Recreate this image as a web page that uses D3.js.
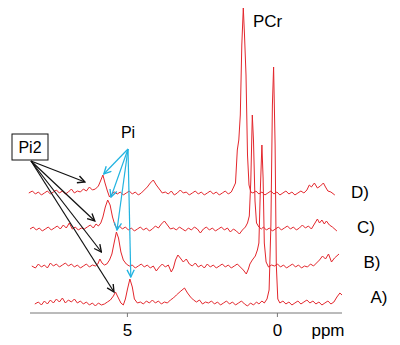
<!DOCTYPE html>
<html>
<head>
<meta charset="utf-8">
<script src="https://cdn.jsdelivr.net/npm/d3@7"></script>
<style>
  body { margin: 0; background: #fff; }
  text { font-family: "Liberation Sans", Arial, sans-serif; fill: #000; }
</style>
</head>
<body>
<div id="container"></div>
<script>
/* CONSTANTS */
const width = 400,
  height = 345;

/* DATA: [ppm, intensity] */
const traceNames = ["A)", "B)", "C)", "D)"];
const traceOffsets = [0, 37, 74, 110];

const specA = [[8.07,1],[7.95,3],[7.85,0],[7.75,4],[7.65,1],[7.55,5],[7.45,2],[7.35,6],[7.25,3],[7.15,7],[7.05,2],[6.95,5],[6.85,3],[6.75,6],[6.65,2],[6.55,4],[6.45,1],[6.35,3],[6.25,0],[6.15,2],[6.05,-1],[5.95,2],[5.85,0],[5.75,1],[5.65,3],[5.55,5],[5.45,9],[5.38,13],[5.3,8],[5.2,2],[5.12,0],[5.05,6],[4.98,16],[4.9,26],[4.82,18],[4.75,6],[4.65,2],[4.55,3],[4.45,1],[4.35,4],[4.25,2],[4.15,5],[4.05,2],[3.95,4],[3.85,1],[3.75,3],[3.65,2],[3.55,5],[3.45,7],[3.35,10],[3.2,14],[3.08,17],[2.98,12],[2.88,8],[2.78,5],[2.68,3],[2.58,5],[2.48,1],[2.38,3],[2.28,2],[2.18,4],[2.08,1],[1.98,3],[1.88,0],[1.78,2],[1.68,4],[1.58,1],[1.48,3],[1.38,0],[1.28,2],[1.18,4],[1.08,1],[0.98,-1],[0.88,2],[0.78,0],[0.68,3],[0.6,1],[0.5,4],[0.42,2],[0.33,6],[0.26,15],[0.2,80],[0.15,200],[0.11,238],[0.06,160],[0.02,40],[-0.03,6],[-0.1,2],[-0.2,4],[-0.3,1],[-0.4,3],[-0.5,0],[-0.6,2],[-0.7,4],[-0.8,1],[-0.9,3],[-1.0,5],[-1.1,2],[-1.2,4],[-1.3,1],[-1.4,3],[-1.5,0],[-1.6,2],[-1.7,4],[-1.8,1],[-1.9,3],[-2.0,8],[-2.1,12],[-2.17,10]];

const specB = [[8.17,2],[8.05,0],[7.95,4],[7.85,1],[7.75,3],[7.65,0],[7.55,5],[7.45,2],[7.35,4],[7.25,1],[7.15,3],[7.05,5],[6.95,2],[6.85,4],[6.75,1],[6.65,3],[6.55,0],[6.45,2],[6.35,4],[6.25,1],[6.15,3],[6.05,2],[5.97,4],[5.9,9],[5.83,5],[5.75,3],[5.67,4],[5.58,8],[5.5,14],[5.42,26],[5.35,36],[5.28,30],[5.2,16],[5.12,8],[5.02,4],[4.92,2],[4.82,3],[4.72,0],[4.62,2],[4.52,4],[4.42,1],[4.32,3],[4.22,0],[4.12,2],[4.02,-3],[3.92,1],[3.82,4],[3.72,1],[3.62,3],[3.52,-4],[3.45,0],[3.38,8],[3.3,13],[3.22,10],[3.12,6],[3.02,9],[2.92,4],[2.82,2],[2.72,5],[2.62,1],[2.52,3],[2.42,0],[2.32,4],[2.22,1],[2.12,3],[2.02,0],[1.92,2],[1.82,4],[1.72,1],[1.62,3],[1.52,0],[1.42,2],[1.32,4],[1.22,1],[1.12,-2],[1.02,-6],[0.95,-1],[0.9,4],[0.82,8],[0.72,12],[0.65,18],[0.6,25],[0.55,80],[0.5,123],[0.46,90],[0.42,25],[0.36,6],[0.28,1],[0.18,3],[0.08,2],[-0.02,4],[-0.12,1],[-0.22,3],[-0.32,0],[-0.42,2],[-0.52,4],[-0.62,1],[-0.72,3],[-0.82,0],[-0.92,2],[-1.02,1],[-1.12,4],[-1.22,2],[-1.32,5],[-1.42,8],[-1.52,12],[-1.62,9],[-1.72,14],[-1.82,6],[-1.92,10],[-2.07,14]];

const specC = [[8.23,2],[8.12,4],[8.02,1],[7.92,3],[7.82,0],[7.72,2],[7.62,4],[7.52,1],[7.42,3],[7.32,5],[7.22,2],[7.12,6],[7.02,3],[6.92,8],[6.82,2],[6.72,4],[6.62,1],[6.52,3],[6.42,2],[6.32,4],[6.22,6],[6.12,3],[6.03,7],[5.95,5],[5.87,8],[5.8,14],[5.72,24],[5.64,31],[5.56,26],[5.48,14],[5.4,6],[5.32,2],[5.25,5],[5.15,2],[5.05,4],[4.95,1],[4.85,3],[4.75,0],[4.65,2],[4.55,4],[4.45,1],[4.35,3],[4.25,0],[4.15,2],[4.05,5],[3.95,3],[3.85,7],[3.75,10],[3.65,6],[3.55,2],[3.45,3],[3.35,1],[3.25,4],[3.15,2],[3.05,0],[2.95,3],[2.85,1],[2.75,4],[2.65,2],[2.55,-2],[2.45,2],[2.35,4],[2.25,1],[2.15,3],[2.05,0],[1.95,2],[1.85,4],[1.75,1],[1.65,3],[1.55,-1],[1.45,2],[1.35,0],[1.25,-3],[1.15,1],[1.05,4],[0.98,8],[0.92,15],[0.87,50],[0.82,116],[0.78,90],[0.73,30],[0.68,8],[0.6,4],[0.52,2],[0.45,4],[0.35,1],[0.25,3],[0.15,0],[0.05,2],[-0.05,4],[-0.15,1],[-0.25,3],[-0.35,5],[-0.45,2],[-0.55,4],[-0.65,1],[-0.75,3],[-0.85,6],[-0.95,3],[-1.05,5],[-1.15,2],[-1.25,7],[-1.35,12],[-1.42,8],[-1.5,11],[-1.58,7],[-1.65,10],[-1.75,6],[-1.85,4],[-2.0,0]];

const specD = [[8.27,2],[8.15,4],[8.05,1],[7.95,3],[7.85,0],[7.75,2],[7.65,4],[7.55,1],[7.45,3],[7.35,5],[7.25,2],[7.15,4],[7.05,1],[6.95,3],[6.85,6],[6.75,2],[6.65,4],[6.55,3],[6.45,6],[6.35,4],[6.25,8],[6.15,5],[6.05,6],[5.95,9],[5.88,14],[5.8,20],[5.73,12],[5.65,4],[5.58,-2],[5.5,1],[5.42,3],[5.32,1],[5.22,3],[5.12,0],[5.02,2],[4.92,4],[4.82,1],[4.72,3],[4.62,0],[4.52,2],[4.42,5],[4.32,8],[4.22,12],[4.12,15],[4.02,10],[3.92,6],[3.82,2],[3.72,3],[3.62,1],[3.52,4],[3.42,0],[3.32,2],[3.22,5],[3.12,2],[3.02,3],[2.92,0],[2.82,2],[2.72,4],[2.62,1],[2.52,3],[2.42,0],[2.32,2],[2.22,4],[2.12,1],[2.02,3],[1.92,0],[1.82,2],[1.72,4],[1.62,1],[1.52,3],[1.44,8],[1.38,12],[1.32,45],[1.27,55],[1.22,80],[1.17,150],[1.12,187],[1.08,160],[1.03,120],[0.98,40],[0.93,10],[0.87,3],[0.8,2],[0.7,4],[0.6,1],[0.5,3],[0.4,0],[0.3,2],[0.2,4],[0.1,1],[0.0,3],[-0.1,0],[-0.2,2],[-0.3,4],[-0.4,1],[-0.5,3],[-0.6,0],[-0.7,2],[-0.8,4],[-0.9,2],[-1.0,5],[-1.08,10],[-1.15,8],[-1.25,12],[-1.35,7],[-1.45,9],[-1.55,12],[-1.62,8],[-1.7,4],[-1.8,3],[-1.93,0]];

const spectra = [specA, specB, specC, specD];
const xTicks = [5, 0];

// arrow tips: [ppm, height] in chart units
const pi2Targets = [[5.43, 13], [5.85, 16 + 37], [6.07, 10 + 74], [6.40, 13 + 110]];
const piTargets = [[4.87, 28], [5.33, 38 + 37], [5.53, 34 + 74], [5.77, 21 + 110]];

/* SCALES */
const xScale = d3.scaleLinear()
  .domain([8.23, -2.17])
  .range([30, 342]);

const yScale = d3.scaleLinear()
  .domain([0, 300])
  .range([305, 5]);

/* DRAW */
const svg = d3.select("#container")
  .append("svg")
  .attr("width", width)
  .attr("height", height);

const defs = svg.append("defs");
function marker(id, color) {
  defs.append("marker")
    .attr("id", id)
    .attr("viewBox", "0 0 10 10")
    .attr("refX", 9)
    .attr("refY", 5)
    .attr("markerWidth", 9)
    .attr("markerHeight", 9)
    .attr("markerUnits", "userSpaceOnUse")
    .attr("orient", "auto")
    .append("path")
    .attr("d", "M1,1 L9,5 L1,9")
    .attr("fill", "none")
    .attr("stroke", color)
    .attr("stroke-width", 1.5);
}
marker("arrBlack", "#111");
marker("arrBlue", "#22b3e0");

// x axis
const xAxis = d3.axisBottom(xScale)
  .tickValues(xTicks)
  .tickSize(4)
  .tickFormat(d3.format("d"));

const gx = svg.append("g")
  .attr("transform", "translate(0,313)")
  .call(xAxis);
gx.select(".domain").attr("stroke", "#777").attr("d", "M30,0H342");
gx.selectAll(".tick line").attr("stroke", "#777");
gx.selectAll(".tick text")
  .attr("y", 11)
  .attr("font-size", 17)
  .attr("font-family", "Liberation Sans, Arial, sans-serif");

svg.append("text")
  .attr("x", 328)
  .attr("y", 336)
  .attr("text-anchor", "middle")
  .attr("font-size", 17)
  .text("ppm");

// spectra
const line = d3.line()
  .x(d => xScale(d[0]))
  .y(d => yScale(d[1]));

spectra.forEach((s, i) => {
  svg.append("path")
    .datum(s.map(d => [d[0], d[1] + traceOffsets[i]]))
    .attr("d", line)
    .attr("fill", "none")
    .attr("stroke", "#e3262c")
    .attr("stroke-width", 1)
    .attr("stroke-linejoin", "round");
});

// trace labels
const labelX = [379, 372, 366, 360];
const labelY = [303, 268, 233, 198];
traceNames.forEach((n, i) => {
  svg.append("text")
    .attr("x", labelX[i])
    .attr("y", labelY[i])
    .attr("text-anchor", "middle")
    .attr("font-size", 17)
    .text(n);
});

// PCr label
svg.append("text")
  .attr("x", 253)
  .attr("y", 27)
  .attr("font-size", 17)
  .text("PCr");

// Pi2 box and arrows
svg.append("rect")
  .attr("x", 12)
  .attr("y", 134)
  .attr("width", 36)
  .attr("height", 26)
  .attr("fill", "#fff")
  .attr("stroke", "#111")
  .attr("stroke-width", 1);
svg.append("text")
  .attr("x", 30)
  .attr("y", 153)
  .attr("text-anchor", "middle")
  .attr("font-size", 16)
  .text("Pi2");

pi2Targets.forEach(t => {
  svg.append("line")
    .attr("x1", 31)
    .attr("y1", 161)
    .attr("x2", xScale(t[0]))
    .attr("y2", yScale(t[1]))
    .attr("stroke", "#111")
    .attr("stroke-width", 1.2)
    .attr("marker-end", "url(#arrBlack)");
});

// Pi label and arrows
svg.append("text")
  .attr("x", 128)
  .attr("y", 138)
  .attr("text-anchor", "middle")
  .attr("font-size", 16)
  .text("Pi");

piTargets.forEach(t => {
  svg.append("line")
    .attr("x1", 128)
    .attr("y1", 149)
    .attr("x2", xScale(t[0]))
    .attr("y2", yScale(t[1]))
    .attr("stroke", "#22b3e0")
    .attr("stroke-width", 1.2)
    .attr("marker-end", "url(#arrBlue)");
});
</script>
</body>
</html>
